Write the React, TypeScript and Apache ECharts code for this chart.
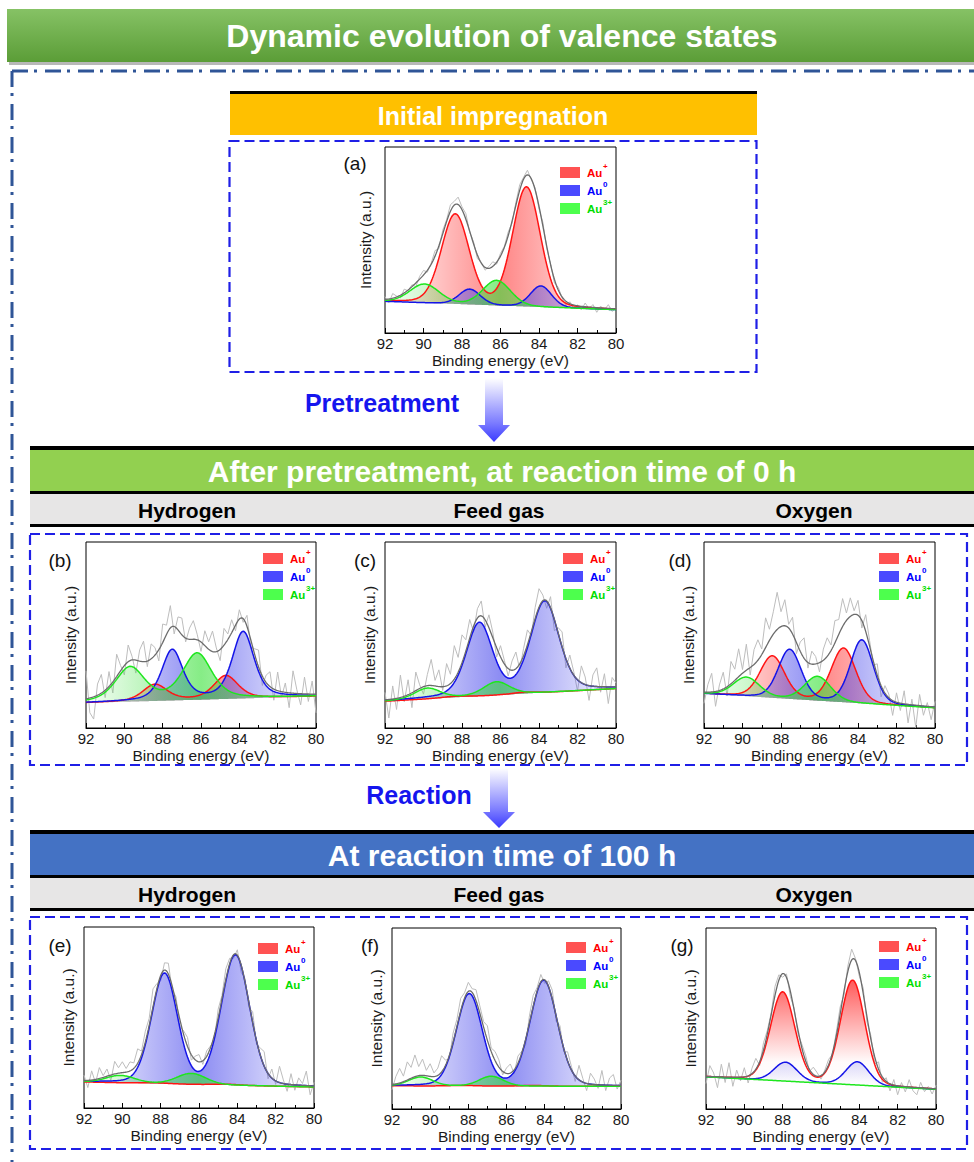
import React, { useEffect, useRef } from 'react';
import * as echarts from 'echarts';

const FONT = '"Liberation Sans", Arial, Helvetica, sans-serif';

// ---------- X sampling (binding energy, eV) ----------
const X_START = 92;
const RAW_STEP = 0.2;
const FIT_STEP = 0.05;
const X_TICK_LABELS = ['92', '90', '88', '86', '84', '82', '80'];

// ---------- Peak parameters: [centre eV, height, FWHM eV] ----------
// baseline: [intensity at 92 eV, intensity at 80 eV] (0-100 scale of each frame)
const BASE_A = [17, 12.5];
const AUP_A = [[84.65, 64, 1.7], [88.35, 48, 1.7]];
const AU0_A = [[83.9, 11.3, 1.3], [87.6, 8.2, 1.3]];
const AU3_A = [[86.2, 13.4, 1.7], [89.95, 10, 1.8]];

const BASE_B = [13.5, 17];
const AUP_B = [[84.7, 12.5, 1.5], [88.4, 8.8, 1.5]];
const AU0_B = [[83.8, 35.7, 1.35], [87.5, 27, 1.3]];
const AU3_B = [[86.2, 24.7, 1.8], [89.7, 18.2, 1.8]];

const BASE_C = [14.4, 21.2];
const AUP_C = [[84.7, 0.8, 1.5], [88.4, 0.6, 1.5]];
const AU0_C = [[83.7, 48.7, 1.75], [87.1, 38.8, 1.6]];
const AU3_C = [[86.2, 7.1, 1.6], [89.8, 5.7, 1.6]];

const BASE_D = [18.5, 10.8];
const AUP_D = [[84.75, 29, 1.5], [88.45, 22.4, 1.5]];
const AU0_D = [[83.8, 34, 1.4], [87.55, 26.5, 1.4]];
const AU3_D = [[86.1, 13, 1.6], [89.8, 10.2, 1.6]];

const BASE_E = [14.4, 11.6];
const AUP_E = [[84.6, 0.5, 1.5], [88.3, 0.4, 1.5]];
const AU0_E = [[84.1, 71.7, 1.75], [87.8, 60.6, 1.6]];
const AU3_E = [[86.4, 6, 1.8], [90.1, 4, 1.8]];

const BASE_F = [12.8, 12.5];
const AUP_F = [[84.6, 0.4, 1.5], [88.3, 0.3, 1.5]];
const AU0_F = [[84.05, 58.3, 1.7], [87.95, 50.7, 1.6]];
const AU3_F = [[86.8, 5.4, 1.5], [90.5, 4.9, 1.5]];

const BASE_G = [17.8, 10.9];
const AUP_G = [[84.35, 57.6, 1.5], [88.0, 49, 1.5]];
const AU0_G = [[84.1, 12.8, 1.4], [87.85, 10.4, 1.4]];
const AU3_G: number[][] = [];

// Lorentzian fraction of the peak shape, per panel
const ETA_BY_PANEL = [0.15, 0.5, 0.3, 0.2, 0.15, 0.15, 0.1];

// ---------- Raw-spectrum residuals (raw minus fit), every 0.2 eV from 92 to 80 eV ----------
const RES_A = [
  1.5, -2, 2.5, 0.5, -1.5, 2, -0.5, 1, -2, 1.5,
  2.5, -1, 0.5, 3, -1.5, 2, 1, 3.5, 2, 4,
  1.5, 3, -0.5, 1, -2, 0.5, -1.5, 1, 2.5, -1,
  1.5, 0.5, 2, -1, 1.5, 3, 1, 2.5, -0.5, 1,
  -1.5, 2, -1, 0.5, -2, 1.5, -0.5, -2.5, 1, -1.5,
  0.5, -2, 2, -1, 1.5, -2.5, 1, -1, 2, -1.5,
  0.5,
];
const RES_B = [
  15, -8, -12, 6, 10, -4, 8, -6, 12, 3,
  -5, 9, 2, -7, 6, 11, -3, 8, 4, -6,
  10, 5, 12, -4, 7, 9, -2, 6, 10, 3,
  -5, 8, 4, 11, 2, -6, 9, 3, 7, -3,
  5, -2, 6, -4, 3, 9, -5, 4, 8, -6,
  10, -3, 5, -8, 12, 2, -6, 9, -4, 7,
  -10,
];
const RES_C = [
  4, -10, 7, -6, 12, -3, 8, -8, 10, 2,
  -4, 6, 14, 3, 9, -2, 12, 5, 18, 8,
  15, 6, 10, -3, 5, 8, -4, 7, 3, -5,
  6, 2, -4, 5, 9, -3, 4, 8, -2, 6,
  10, 3, -4, 6, -6, 3, 8, -5, 7, 2,
  -6, 9, 4, -8, 6, 10, -3, 7, -9, 5,
  2,
];
const RES_D = [
  -6, 4, 10, -8, 3, 9, -5, 12, 6, 15,
  2, 14, -4, 8, 11, 3, 16, 6, 12, 20,
  8, 14, 2, 9, -6, 5, 11, -3, 7, 4,
  -5, 6, 10, 3, 12, 8, 15, 4, 10, 2,
  8, -4, 9, 3, -2, 6, -6, 4, 2, -8,
  5, -4, 7, -10, 3, -12, 6, -5, 2, -7,
  3,
];
const RES_E = [
  3, -4, 5, -2, 6, 1, 4, -3, 7, 3,
  6, 2, 5, 3, 8, 2, 6, 4, 10, 3,
  -3, 4, 6, -2, 3, -4, 2, 5, -3, 2,
  4, -2, 3, 1, -3, 5, 2, 6, 3, -2,
  3, -4, 2, -3, 6, -2, 4, 8, -3, 5,
  -2, 9, 2, -4, 6, -3, 4, 1, 8, -5,
  2,
];
const RES_F = [
  -3, 4, 8, 3, 10, 6, 12, 5, 9, 3,
  7, 2, 4, 9, 3, -2, 5, 4, 7, 3,
  5, 2, 6, 4, 3, 8, 2, 5, 4, -2,
  3, 5, -2, 4, 1, -3, 4, 6, 2, 4,
  -2, 3, 5, -3, 4, -2, 5, 2, -3, 8,
  2, -4, 6, 3, -2, 8, -3, 4, 6, -2,
  3,
];
const RES_G = [
  -4, 6, 2, -6, 7, -3, 8, -5, 4, -2,
  5, -4, 3, 6, -2, 4, 2, 1, 5, 3,
  -2, 2, -3, 1, -2, 2, 3, -1, 4, 2,
  -2, 1, 3, -1, 2, 4, -2, 3, 6, 1,
  -2, 3, -3, 2, -4, 4, -3, 2, -4, 3,
  -5, 2, -3, 4, -2, -4, 3, -2, 1, -3,
  2,
];

// ---------- Text ----------
const PANEL_LETTERS = ['(a)', '(b)', '(c)', '(d)', '(e)', '(f)', '(g)'];
const LEGEND_LABELS = ['Au', 'Au', 'Au'];
const LEGEND_SUPS = ['+', '0', '3+'];
const ROW_SUBLABELS = ['Hydrogen', 'Feed gas', 'Oxygen'];

// ---------- Layout (pixels) ----------
const LAYOUT = [
  { left: 385, top: 147, width: 231, height: 186, lgX: 560, lgY: 167, lbX: 355, lbY: 163, yGap: 12 },
  { left: 86, top: 542, width: 230, height: 186, lgX: 263, lgY: 553, lbX: 60, lbY: 560, yGap: 8 },
  { left: 385, top: 542, width: 231, height: 186, lgX: 563, lgY: 553, lbX: 365, lbY: 560, yGap: 8 },
  { left: 704, top: 542, width: 231, height: 186, lgX: 879, lgY: 553, lbX: 680, lbY: 560, yGap: 8 },
  { left: 84, top: 927, width: 230, height: 181, lgX: 258, lgY: 943, lbX: 60, lbY: 945, yGap: 8 },
  { left: 392, top: 928, width: 229, height: 181, lgX: 566, lgY: 942, lbX: 370, lbY: 945, yGap: 8 },
  { left: 706, top: 928, width: 230, height: 181, lgX: 879, lgY: 941, lbX: 682, lbY: 945, yGap: 8 },
];

const PANELS = [
  { base: BASE_A, states: [AUP_A, AU0_A, AU3_A], res: RES_A, grad: 'h' },
  { base: BASE_B, states: [AUP_B, AU0_B, AU3_B], res: RES_B, grad: 'h' },
  { base: BASE_C, states: [AUP_C, AU0_C, AU3_C], res: RES_C, grad: 'h' },
  { base: BASE_D, states: [AUP_D, AU0_D, AU3_D], res: RES_D, grad: 'h' },
  { base: BASE_E, states: [AUP_E, AU0_E, AU3_E], res: RES_E, grad: 'h' },
  { base: BASE_F, states: [AUP_F, AU0_F, AU3_F], res: RES_F, grad: 'h' },
  { base: BASE_G, states: [AUP_G, AU0_G, AU3_G], res: RES_G, grad: 'v' },
];

const STATE_LINE = ['#ff1414', '#1414e8', '#1ee61e'];
const STATE_RGB = [[255, 60, 60], [70, 70, 235], [60, 225, 60]];
const LEGEND_FILL = ['#ff5252', '#4a4aff', '#4dff4d'];
const LEGEND_TEXT = ['#ff0000', '#0000ff', '#00dd00'];

function compAt(x: number, peaks: number[][], eta: number) {
  let s = 0;
  for (const [c, h, w] of peaks) {
    const d = (x - c) / w;
    s += h * ((1 - eta) * Math.exp(-4 * Math.LN2 * d * d) + eta / (1 + 4 * d * d));
  }
  return s;
}
function baseAt(x: number, b: number[]) {
  return b[0] + ((b[1] - b[0]) * (92 - x)) / 12;
}

function rgba(c: number[], a: number) {
  return `rgba(${c[0]},${c[1]},${c[2]},${a})`;
}

function areaGradient(rgb: number[], mode: string, stateIdx: number) {
  if (mode === 'v') {
    const top = stateIdx === 0 ? 0.85 : 0.2;
    return {
      type: 'linear', x: 0, y: 0, x2: 0, y2: 1,
      colorStops: [
        { offset: 0, color: rgba(rgb, top) },
        { offset: 0.75, color: rgba(rgb, 0.02) },
        { offset: 1, color: rgba(rgb, 0) },
      ],
    };
  }
  return {
    type: 'linear', x: 0, y: 0, x2: 1, y2: 0,
    colorStops: [
      { offset: 0, color: rgba(rgb, 0.04) },
      { offset: 0.5, color: rgba(rgb, 0.62) },
      { offset: 1, color: rgba(rgb, 0.04) },
    ],
  };
}

function txt(t: string, x: number, y: number, size: number, color: string, weight = 'normal', align = 'center', z = 50) {
  return {
    type: 'text', x, y, z,
    style: {
      text: t, fill: color, fontSize: size, fontWeight: weight, fontFamily: FONT,
      align, verticalAlign: 'middle', textAlign: align, textVerticalAlign: 'middle',
    },
  };
}

function buildOption() {
  const grids: any[] = [];
  const xAxes: any[] = [];
  const yAxes: any[] = [];
  const series: any[] = [];
  const g: any[] = [];

  const fitXs: number[] = [];
  for (let k = 0; k <= Math.round(12 / FIT_STEP); k++) fitXs.push(+(X_START - k * FIT_STEP).toFixed(3));

  PANELS.forEach((p, i) => {
    const L = LAYOUT[i];
    const eta = ETA_BY_PANEL[i];
    grids.push({
      left: L.left, top: L.top, width: L.width, height: L.height,
      show: true, borderColor: '#000', borderWidth: 1, backgroundColor: 'rgba(0,0,0,0)',
      outerBoundsMode: 'none',
    });
    xAxes.push({
      type: 'value', gridIndex: i, min: 80, max: 92, interval: 2, inverse: true,
      axisLine: { show: true, lineStyle: { color: '#000', width: 1 } },
      axisTick: { show: true, inside: true, length: 5, lineStyle: { color: '#000' } },
      minorTick: { show: true, splitNumber: 2, length: 3, lineStyle: { color: '#000' } },
      splitLine: { show: false },
      axisLabel: {
        fontSize: 15, color: '#1a1a1a', margin: 3, fontFamily: FONT,
        formatter: (v: number) => X_TICK_LABELS[Math.round((92 - v) / 2)] ?? String(v),
      },
      name: 'Binding energy (eV)', nameLocation: 'middle', nameGap: 19,
      nameTextStyle: { fontSize: 15.5, color: '#1a1a1a', fontFamily: FONT },
    });
    yAxes.push({
      type: 'value', gridIndex: i, min: 0, max: 100,
      axisLine: { show: false }, axisTick: { show: false }, axisLabel: { show: false }, splitLine: { show: false },
      name: 'Intensity (a.u.)', nameLocation: 'middle', nameGap: L.yGap, nameRotate: 90,
      nameTextStyle: { fontSize: 15.5, color: '#1a1a1a', fontFamily: FONT },
    });

    const envAt = (x: number) => baseAt(x, p.base) + p.states.reduce((s, pk) => s + compAt(x, pk, eta), 0);

    // raw spectrum
    series.push({
      type: 'line', xAxisIndex: i, yAxisIndex: i, symbol: 'none', silent: true, z: 1,
      lineStyle: { color: '#bdbdbd', width: 1 },
      data: p.res.map((r, k) => {
        const x = +(X_START - k * RAW_STEP).toFixed(3);
        return [x, envAt(x) + r];
      }),
    });

    // components: filled band between baseline and baseline+component (custom series) + outline (line series)
    p.states.forEach((pk, s) => {
      const band = fitXs.map((x) => [x, baseAt(x, p.base), baseAt(x, p.base) + compAt(x, pk, eta)]);
      const fill = areaGradient(STATE_RGB[s], p.grad, s);
      series.push({
        type: 'custom', xAxisIndex: i, yAxisIndex: i, silent: true, z: 2,
        encode: { x: 0, y: [1, 2] },
        data: band,
        renderItem: (params: any, api: any) => {
          if (params.dataIndex !== 0) return null;
          const upper = band.map((d) => api.coord([d[0], d[2]]));
          const lower = band.map((d) => api.coord([d[0], d[1]])).reverse();
          return {
            type: 'polygon',
            shape: { points: upper.concat(lower) },
            style: { fill, stroke: 'none' },
          };
        },
      });
      series.push({
        type: 'line', xAxisIndex: i, yAxisIndex: i, symbol: 'none', silent: true, z: 3 + s * 0.1,
        lineStyle: { color: STATE_LINE[s], width: 1.5 },
        data: band.map((d) => [d[0], d[2]]),
      });
    });

    // envelope
    series.push({
      type: 'line', xAxisIndex: i, yAxisIndex: i, symbol: 'none', silent: true, z: 5,
      lineStyle: { color: '#6b6b6b', width: 1.3 },
      data: fitXs.map((x) => [x, envAt(x)]),
    });

    // panel letter
    g.push(txt(PANEL_LETTERS[i], L.lbX, L.lbY, 19, '#111'));

    // legend
    for (let s = 0; s < 3; s++) {
      const y = L.lgY + s * 18;
      g.push({ type: 'rect', z: 100, shape: { x: L.lgX, y, width: 20, height: 11 }, style: { fill: LEGEND_FILL[s] } });
      g.push(txt(LEGEND_LABELS[s], L.lgX + 27, y + 6, 11.5, LEGEND_TEXT[s], 'bold', 'left', 100));
      g.push(txt(LEGEND_SUPS[s], L.lgX + 43, y - 1, 8, LEGEND_TEXT[s], 'bold', 'left', 100));
    }
  });

  // ---------- Decorations ----------
  const deco: any[] = [];
  deco.push({ type: 'rect', z: 0, shape: { x: 9, y: 12, width: 975, height: 53 }, style: { fill: 'rgba(0,0,0,0.28)' } });
  deco.push({
    type: 'rect', z: 1, shape: { x: 7, y: 9, width: 975, height: 53 },
    style: { fill: { type: 'linear', x: 0, y: 0, x2: 0, y2: 1, colorStops: [{ offset: 0, color: '#86c265' }, { offset: 1, color: '#5b9d37' }] } },
  });
  deco.push(txt('Dynamic evolution of valence states', 502, 36, 32, '#fff', 'bold'));

  const dd = { stroke: '#2f5597', lineWidth: 3, lineDash: [16, 6, 3, 8] };
  deco.push({ type: 'line', z: 1, shape: { x1: 12, y1: 71, x2: 974, y2: 71 }, style: dd });
  deco.push({ type: 'line', z: 1, shape: { x1: 12, y1: 71, x2: 12, y2: 1162 }, style: dd });

  deco.push({ type: 'rect', z: 1, shape: { x: 230, y: 91, width: 527, height: 3 }, style: { fill: '#000' } });
  deco.push({ type: 'rect', z: 1, shape: { x: 230, y: 94, width: 527, height: 41 }, style: { fill: '#ffc000' } });
  deco.push(txt('Initial impregnation', 493, 116, 25, '#fff', 'bold'));

  const dashBox = (x: number, y: number, w: number, h: number) => ({
    type: 'rect', z: 1, shape: { x, y, width: w, height: h },
    style: { fill: 'none', stroke: '#1f1fe6', lineWidth: 2.2, lineDash: [10, 5] },
  });
  deco.push(dashBox(229.5, 141, 527, 231));

  const arrow = (cx: number, y0: number, y1: number, y2: number) => ({
    type: 'polygon', z: 1,
    shape: { points: [[cx - 9, y0], [cx + 9, y0], [cx + 9, y1], [cx + 16, y1], [cx, y2], [cx - 16, y1], [cx - 9, y1]] },
    style: { fill: { type: 'linear', x: 0, y: 0, x2: 0, y2: 1, colorStops: [{ offset: 0, color: '#ffffff' }, { offset: 0.7, color: '#7c7cff' }, { offset: 1, color: '#3a3aff' }] } },
  });
  deco.push(txt('Pretreatment', 382, 403, 25, '#1515ee', 'bold'));
  deco.push(arrow(494, 378, 425, 442));

  const rowHeader = (y: number, color: string, title: string) => {
    deco.push({ type: 'rect', z: 1, shape: { x: 30, y, width: 950, height: 4 }, style: { fill: '#000' } });
    deco.push({ type: 'rect', z: 1, shape: { x: 30, y: y + 4, width: 950, height: 41 }, style: { fill: color } });
    deco.push({ type: 'rect', z: 1, shape: { x: 30, y: y + 45, width: 950, height: 3 }, style: { fill: '#000' } });
    deco.push({ type: 'rect', z: 1, shape: { x: 30, y: y + 48, width: 950, height: 30 }, style: { fill: '#e7e6e6' } });
    deco.push({ type: 'rect', z: 1, shape: { x: 30, y: y + 78, width: 950, height: 3 }, style: { fill: '#000' } });
    deco.push(txt(title, 502, y + 25, 30, '#fff', 'bold'));
    const xs = [187, 499, 814];
    ROW_SUBLABELS.forEach((s, k) => deco.push(txt(s, xs[k], y + 64, 21, '#000', 'bold')));
  };
  rowHeader(446, '#92d050', 'After pretreatment, at reaction time of 0 h');
  deco.push(dashBox(30, 534, 937, 231));

  deco.push(txt('Reaction', 419, 795, 25, '#1515ee', 'bold'));
  deco.push(arrow(499, 768, 812, 828));

  rowHeader(830, '#4472c4', 'At reaction time of 100 h');
  deco.push(dashBox(30, 917, 937, 232));

  return {
    animation: false,
    backgroundColor: '#fff',
    grid: grids,
    xAxis: xAxes,
    yAxis: yAxes,
    series,
    graphic: { elements: [...deco, ...g] },
  };
}

export default function App() {
  const ref = useRef<HTMLDivElement>(null);
  useEffect(() => {
    if (!ref.current) return;
    const chart = echarts.init(ref.current, null, { renderer: 'svg', width: 974, height: 1162 });
    chart.setOption(buildOption() as any);
    return () => chart.dispose();
  }, []);
  return (
    <div
      ref={ref}
      style={{ position: 'absolute', left: 0, top: 0, width: 974, height: 1162, background: '#fff' }}
    />
  );
}
